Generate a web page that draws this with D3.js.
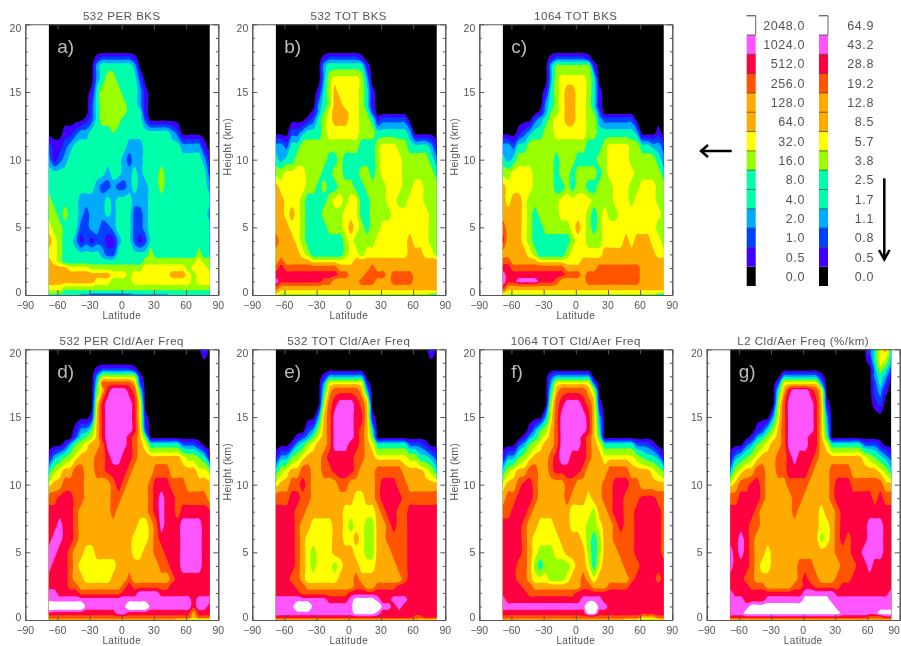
<!DOCTYPE html>
<html>
<head>
<meta charset="utf-8">
<script src="https://cdn.jsdelivr.net/npm/d3@7"></script>
<style>
  body { margin: 0; background: #fff; }
  svg { display: block; filter: blur(0.4px); }
  text { font-family: "Liberation Sans", sans-serif; fill: #555; }
</style>
</head>
<body>
<script>
// grid of the contour data
const lats = [-68,-63,-58,-53,-48,-43,-38,-33,-28,-23,-18,-13,-8,-3,2,7,12,17,22,27,32,37,42,47,52,57,62,67,72,77,82];
const heights = [20,19,18.5,18,17.5,17,16,15,14,13.5,13,12,11,10,9,8,7,6,5,4,3,2.5,2,1.5,1,0.5,0.2,0];

// colour bar
const levelColors = ["#000000","#4000ff","#0040ff","#00aaff","#00ffaa","#00ffaa","#99ff00","#ffff00","#ffaa00","#ffaa00","#ff5500","#ff0040","#ff55ff","#ffffff"];
const bksLabels = ["0.0","0.5","1.0","2.0","4.0","8.0","16.0","32.0","64.0","128.0","256.0","512.0","1024.0","2048.0"];
const freqLabels = ["0.0","0.5","0.8","1.1","1.7","2.5","3.8","5.7","8.5","12.8","19.2","28.8","43.2","64.9"];
// where each colour starts; 4/5 and 8/9 look the same so the next step sits half way
const levelCuts = [0, 0.5, 1.5, 2.5, 3.5, 4.5, 5.01, 6.5, 7.5, 8.5, 9, 10.5, 11.5, 12.5];

const Z = "00000 00000 00000 00000 00000 00000 0";

// each row is one height (top to bottom), each character the colour level (hex) at one latitude
const perBks = [Z,Z,Z,Z,
"00000 00001 22222 21000 00000 00000 0",
"00000 00003 44444 43000 00000 00000 0",
"00000 00003 46644 44200 00000 00000 0",
"00000 00014 66664 44310 00000 00000 0",
"00000 00024 66666 44310 00000 00000 0",
"00000 00024 66666 44410 00000 00000 0",
"00000 00124 66664 44420 00000 00000 0",
"00011 23344 44544 44444 44432 00000 0",
"21123 44444 44444 33344 44444 33331 0",
"31234 44444 44443 23344 44444 44443 1",
"44444 44444 43443 34344 46444 44444 2",
"44444 44443 22322 34334 46444 44444 3",
"64444 43333 34344 43334 44444 44444 4",
"66464 43233 34344 42234 44444 44444 3",
"76644 42233 22344 42234 44444 44444 4",
"87644 31212 21134 42124 44444 44444 4",
"77644 44444 32244 44446 44444 44464 4",
"87644 44444 44444 44466 66666 66676 6",
"88887 77766 66666 66677 77777 76777 6",
"88888 88888 88777 67777 77788 87677 7",
"88888 88887 77666 67777 77777 77677 7",
"77766 66666 66666 66666 66666 66666 6",
"66644 44444 44444 44444 44444 44444 4",
"44444 43322 22222 23333 33344 44444 4"];

const totBks = [Z,Z,Z,Z,
"00000 00001 22222 21000 00000 00000 0",
"00000 00003 44444 44100 00000 00000 0",
"00000 00003 67777 76300 00000 00000 0",
"00000 00014 68777 76410 00000 00000 0",
"00000 00034 68877 76410 00000 00000 0",
"00000 00135 78887 76520 00000 00000 0",
"00000 01246 78887 76641 22222 00000 0",
"00022 34446 77777 76664 44444 30000 0",
"33244 66666 66666 64446 77766 44443 1",
"43446 66666 44644 44446 77776 66664 3",
"66777 76664 46644 46646 77776 66666 4",
"87777 76646 44666 44666 67776 67766 6",
"88777 64444 67767 74466 67766 77766 6",
"88787 64446 66677 74466 66777 77776 6",
"88877 64444 66678 76466 77777 77776 6",
"A8887 64444 44467 66667 77777 87776 6",
"88888 76444 44467 76777 77777 88877 6",
"8A888 88777 77777 88888 88888 88888 8",
"ABAAA AAAAA AA888 888A8 88888 88888 8",
"BBBBB BBBBB BBAA8 88AAA A8AAA A8888 8",
"CBBBB BBBBA A8888 8AAA8 88AAA A8888 8",
"A8888 88888 88888 88888 88888 88888 8",
"87777 77777 77777 77777 77777 77777 7",
"66666 66666 66666 66666 66666 66664 4"];

const irBks = [Z,Z,Z,Z,
"00000 00001 22222 21000 00000 00000 0",
"00000 00003 55555 55100 00000 00000 0",
"00000 00003 67777 76400 00000 00000 0",
"00000 00014 67887 76410 00000 00000 0",
"00000 00034 67887 76410 00000 00000 0",
"00000 00135 67887 76520 00000 00000 0",
"00000 02346 77887 76632 22222 00000 0",
"00012 34466 77777 76644 44444 30001 0",
"33244 66666 66666 64446 77776 64433 2",
"43466 66666 46664 44466 77776 66664 3",
"66777 76666 46646 66646 77777 66666 4",
"87777 76666 44646 64466 67776 67776 6",
"87887 66666 67777 77666 67776 77776 6",
"88887 64666 67777 76467 66777 77777 6",
"A8887 64466 66678 76467 77777 77776 6",
"B8887 64444 44467 76667 77787 88877 6",
"88888 76444 44677 77778 88888 88887 7",
"AA888 88777 77777 88888 88888 88888 8",
"BBAAA AAAAA AA888 888AA AAAAA A8888 8",
"CBBBB BBBBB BBAAA 8AAAA AAAAA A8888 8",
"CBBCC CCBBB A8888 8AAAA AAAAA A8888 8",
"B8888 88888 88888 88888 88888 88888 8",
"87777 77777 77777 77777 77777 77777 7",
"66666 66666 66666 66666 66666 66664 4"];

const perFreq = [
"00000 00000 00000 00000 00000 00002 0",Z,
"00000 00001 22222 21000 00000 00000 0",
"00000 00003 66666 66100 00000 00000 0",
"00000 00004 AAAAA A8200 00000 00000 0",
"00000 00005 8BCCC BA400 00000 00000 0",
"00000 00007 BCCCC CB700 00000 00000 0",
"00000 00018 BCCCC CB710 00000 00000 0",
"00000 13358 BCCCC CB820 00000 00000 0",
"00000 24568 BCCCC BA850 00000 00000 0",
"00013 56788 ACCCC BA874 44444 22210 0",
"13456 7888A ABCCB BA888 88888 76654 1",
"46788 AA88A ABBBB A8888 AAA88 88877 6",
"788AA AA888 88ABA 8888A BBBAA A8888 8",
"AABBB AA888 88AA8 8888A BCBBA AAAAA 8",
"BBBBB A8888 88A88 8888A BCBBA BBBBB B",
"BBCBB A8888 88888 88778 ACBBB CCCCB B",
"BCCBB A8888 88888 87778 ABBBB CCCCB B",
"CCBBA 88778 88888 87788 AABBB CCCCB B",
"CBBBA 87777 77788 88888 8AABB CCCCB B",
"BBBBA 88777 77888 A8888 888AB BBBBB B",
"BBBBA A8888 8888A BAAAA AAABB BBBBB B",
"CCBBB BAAAA AAAAB BBCCC CBBBB BBBBB B",
"CCCCC CCCCC CCCCC CCCCC CCCCC CCBCC C",
"EEEEE EECCC CCCCC EEEEC CCCCC CCBCC B",
"BBBBB BBBBB BBBCC BBBBB BBBBB BB8BB B",
"AAAAA AAAAA AAAAA AAAAA AAAAA AA8AA A",
"88888 88888 88888 88888 88887 77666 6"];

const totFreq = [
"00000 00000 00000 00000 00000 00002 0",Z,Z,
"00000 00001 33333 33000 00000 00000 0",
"00000 00003 77777 77100 00000 00000 0",
"00000 00004 8AAAA A8300 00000 00000 0",
"00000 00006 ABCCC BA800 00000 00000 0",
"00000 00038 ACCCC BB810 00000 00000 0",
"00000 02368 ACCCC BA840 00000 00000 0",
"00001 23578 ACCCC BA850 00000 00000 0",
"00013 46788 ACCCB BA874 44444 22210 0",
"13356 7888A BBBBB AA887 77777 66443 2",
"46788 AA88A ABBBB A888A AAAA8 88876 4",
"788AA BA888 88AA8 8888A BBBAA 88888 8",
"AAABB AA888 88888 7788A BBBBA AAAAA A",
"BBBBA A8888 88877 77778 ABBAA BBBBB B",
"BBBBA 88777 78876 77668 8ABAA BBBBB B",
"BBBBA 87777 78877 87668 8AAAA BBBBB B",
"BBBBA 87677 78888 77668 88AAA BBBBB B",
"BBBBA 87677 76788 87778 888AA BBBBB B",
"BBBAA 87777 77888 A8888 8888A BBBBB B",
"BBBBA A8888 88888 AA88A AAABB BBBBB B",
"BBBBB AAAAA AAAAB BBBBB BBBBB BBBBB B",
"CCCCC CCCCC BBBBC DDDDC BBCCC BBBBB B",
"CCCCE EECCC CCCCC EEEEE CCBCB BBBBB B",
"CCCCC CCCCC CCCCC DDDDC BBBBB BBBBB B",
"BBBBB BBBBB BBBBB BBBBB BBBBB BAABB B",
"88888 88888 88888 88888 88888 88777 6"];

const irFreq = [Z,Z,Z,
"00000 00002 33333 33000 00000 00000 0",
"00000 00003 77777 77200 00000 00000 0",
"00000 00004 8AAAA A8600 00000 00000 0",
"00000 00006 ABCCC BA810 00000 00000 0",
"00000 00037 ACCCC CB830 00000 00000 0",
"00000 13568 ACCCC CB840 00000 00000 0",
"00001 34678 ACCCC BA850 00000 00000 0",
"00023 56788 ACCCC BA874 44444 22210 0",
"13356 7888A BCCBB BA887 77777 65443 1",
"46788 AA88A BBBBB A8888 AAAA8 88876 5",
"788AB BA888 88AA8 8888A ABBBA A8888 8",
"8AABB BA888 88A88 8788A ABBAA ABBBA A",
"AABBB A8888 88877 77688 ABBAA BBBBB A",
"BBBBA 88777 88877 76678 8ABAA BBBBB A",
"BBBBA 87777 78888 76468 8AAAA BBBBB A",
"BBBBA 87666 77888 86468 88AAA BBBBB A",
"BBBAA 86466 66678 87478 888AA ABBBB B",
"BBBAA 87776 66788 A8788 8888A BBBBA B",
"BBBBA A8888 88888 AA888 AAAAB BBBBB B",
"BBBBB AAAAA AAAAB BBBBB BBBBB BBBBB B",
"CBBBB BBBBB BBBBB CCCCB BBBBB BBBBB B",
"CCCCC CCCCC CCCCC CEECC BBBBB BBBBB B",
"BBBBB BBBBB BBBBB BDDBB BBBBB BBBBB B",
"AAAAA AAAAA AAAAA AAAAA AAAAA A888A A",
"88888 88888 88888 88888 88877 76666 7"];

const l2Freq = [
"00000 00000 00000 00000 00000 02478 4",
"00000 00000 00000 00000 00000 01476 3",
"00000 00000 00000 00000 00000 00364 2",
"00000 00000 33333 33100 00000 00343 1",
"00000 00002 77777 77300 00000 00242 0",
"00000 00004 8BCCC BA700 00000 00231 0",
"00000 00006 ACCCC CB810 00000 00120 0",
"00000 00037 ACCCC CB830 00000 00000 0",
"00000 12468 ACCCC CB840 00000 00000 0",
"00001 34678 ACCCC BB850 00000 00000 0",
"00023 56788 ACCCC BB874 44444 22210 0",
"13456 7888A ABCBB BA888 88888 76543 2",
"36788 AA88A ABBBB A888A AAA88 88876 4",
"78AAB BA888 8AAAA 8888A BBBAA AAAA8 8",
"AABBB BA888 88AA8 8888A BBBBB BBABA A",
"BBBBB A8888 88A88 88788 ABBBB BBBBB B",
"BBBBA A8888 88888 88778 ABBBB BCCCB B",
"BBCBA 88888 88888 88678 ABABB BCCCB B",
"CBCBA 88788 88888 88888 AAABB CCCCB B",
"CBBBA 87788 888AA A8888 8AAAB BCBBB B",
"BBBAA 88888 888AB AA888 AAABB BBBBB B",
"BBBBA AA888 88AAB BAAAA ABBBB BBBBB B",
"CBBBB BBBBB BBBBC CCCCC BBBBB BBBBB C",
"CCCBB BBCCC CCCCD DDDDC CCCCC CCCCC C",
"CCCCD DDDDD DDDDD DDDDD CCCCC CCCCC C",
"CCCDD DDDDD DDDDD DDDDD DCCCC CCCDD D",
"BBBBB BBBBB BBBBB BBBBB BBBBB BAAAB B",
"88888 88888 88888 88888 88888 88888 8"];

const panels = [
  { title: "532 PER BKS", tag: "a)", rows: perBks, left: 25.3, top: 24.3, yTitle: false },
  { title: "532 TOT BKS", tag: "b)", rows: totBks, left: 252.3, top: 24.3, yTitle: true },
  { title: "1064 TOT BKS", tag: "c)", rows: irBks, left: 479.3, top: 24.3, yTitle: true },
  { title: "532 PER Cld/Aer Freq", tag: "d)", rows: perFreq, left: 25.3, top: 349.3, yTitle: false },
  { title: "532 TOT Cld/Aer Freq", tag: "e)", rows: totFreq, left: 252.3, top: 349.3, yTitle: true },
  { title: "1064 TOT Cld/Aer Freq", tag: "f)", rows: irFreq, left: 479.3, top: 349.3, yTitle: true },
  { title: "L2 Cld/Aer Freq (%/km)", tag: "g)", rows: l2Freq, left: 706.7, top: 349.3, yTitle: false },
];

//width and height of one plot
const w = 193;
const h = 270.7;
const axisColor = "#555";

const svg = d3.select("body").append("svg").attr("width", 901).attr("height", 646);

const xScale = d3.scaleLinear().domain([-90, 90]).range([0, w]);
const yScale = d3.scaleLinear().domain([0, 20]).range([h, 0]);

// contour grid cell centres sit at i + 0.5, the half cell outside gets clipped
const xGrid = d3.scaleLinear()
  .domain(lats.map((d, i) => i + 0.5))
  .range(lats.map((d) => xScale(d)));
const yGrid = d3.scaleLinear()
  .domain(heights.map((d, i) => i + 0.5))
  .range(heights.map((d) => yScale(d)));

const ringLine = d3.line()
  .x((d) => xGrid(d[0]))
  .y((d) => yGrid(d[1]))
  .curve(d3.curveCatmullRomClosed.alpha(0.5));

const contours = d3.contours()
  .size([lats.length, heights.length])
  .smooth(true)
  .thresholds(levelCuts.slice(1));

const styleAxis = (g) => {
  g.select(".domain").attr("stroke", axisColor);
  g.selectAll("line").attr("stroke", axisColor);
};

panels.forEach((p, pi) => {
  const g = svg.append("g").attr("transform", "translate(" + p.left + "," + p.top + ")");

  const values = p.rows.flatMap((r) => Array.from(r.replace(/ /g, ""), (c) => parseInt(c, 16)));

  const x0 = xScale(lats[0]);
  const x1 = xScale(lats[lats.length - 1]);

  g.append("clipPath")
    .attr("id", "clip" + pi)
    .append("rect")
    .attr("x", x0)
    .attr("y", 0)
    .attr("width", x1 - x0)
    .attr("height", h);

  g.append("rect")
    .attr("x", x0)
    .attr("y", 0)
    .attr("width", x1 - x0)
    .attr("height", h)
    .attr("fill", levelColors[0]);

  g.append("g")
    .attr("clip-path", "url(#clip" + pi + ")")
    .selectAll("path")
    .data(contours(values))
    .join("path")
    .attr("d", (d) =>
      d.coordinates
        .flatMap((poly) => poly.map((ring) => ringLine(ring.slice(0, -1))))
        .join("")
    )
    .attr("fill-rule", "evenodd")
    .attr("fill", (d) => levelColors[levelCuts.indexOf(d.value)]);

  // axes: major ticks and minor ticks both point inwards
  const yMajor = [0, 5, 10, 15, 20];
  const yMinor = d3.range(0, 21).filter((d) => d % 5 !== 0);
  const xTicks = [-90, -60, -30, 0, 30, 60, 90];

  [
    [d3.axisLeft, 0],
    [d3.axisRight, w],
  ].forEach(([axis, x]) => {
    g.append("g")
      .attr("transform", "translate(" + x + ",0)")
      .call(axis(yScale).tickValues(yMinor).tickSize(-2.5).tickSizeOuter(0).tickFormat(""))
      .call(styleAxis);
    g.append("g")
      .attr("transform", "translate(" + x + ",0)")
      .call(axis(yScale).tickValues(yMajor).tickSize(-5).tickSizeOuter(0).tickFormat(""))
      .call(styleAxis);
  });

  g.append("g")
    .attr("transform", "translate(0," + h + ")")
    .call(d3.axisBottom(xScale).tickValues(xTicks).tickSize(-5).tickSizeOuter(0).tickFormat(""))
    .call(styleAxis);
  g.append("g")
    .call(d3.axisTop(xScale).tickValues(xTicks).tickSize(-5).tickSizeOuter(0).tickFormat(""))
    .call(styleAxis);

  // tick labels
  g.selectAll("text.ylab")
    .data(yMajor)
    .join("text")
    .attr("class", "ylab")
    .attr("x", -4)
    .attr("y", (d) => yScale(d) + (d === 20 ? 8 : d === 0 ? 1.5 : 4))
    .attr("text-anchor", "end")
    .attr("font-size", 10.5)
    .text((d) => d);

  // the last panel runs up to the page edge, so its 90 is pulled in
  g.selectAll("text.xlab")
    .data(xTicks)
    .join("text")
    .attr("class", "xlab")
    .attr("x", (d) => (p.left + xScale(d) + 7 > 901 ? 901 - p.left - 7 : xScale(d)))
    .attr("y", h + 14.5)
    .attr("text-anchor", "middle")
    .attr("font-size", 10.5)
    .text((d) => (d < 0 ? "\u2212" + -d : d));

  g.append("text")
    .attr("x", w / 2)
    .attr("y", h + 24)
    .attr("text-anchor", "middle")
    .attr("font-size", 10)
    .attr("letter-spacing", 0.4)
    .text("Latitude");

  g.append("text")
    .attr("x", w / 2)
    .attr("y", -4.5)
    .attr("text-anchor", "middle")
    .attr("font-size", 11.5)
    .attr("letter-spacing", 0.5)
    .text(p.title);

  if (p.yTitle) {
    g.append("text")
      .attr("transform", "translate(-21," + (h / 2 - 13) + ") rotate(-90)")
      .attr("text-anchor", "middle")
      .attr("font-size", 10.5)
      .attr("letter-spacing", 0.3)
      .text("Height (km)");
  }

  g.append("text")
    .attr("x", 32)
    .attr("y", 29)
    .attr("font-size", 19)
    .style("fill", "#bbb")
    .text(p.tag);
});

// colour bars
const barY = d3.scaleBand()
  .domain(d3.range(levelColors.length))
  .range([286, 15.7]);

[
  { x: 746.7, labels: bksLabels, textX: 805 },
  { x: 819, labels: freqLabels, textX: 874 },
].forEach((b) => {
  const bar = svg.append("g");
  bar.selectAll("rect")
    .data(levelColors)
    .join("rect")
    .attr("x", b.x)
    .attr("y", (d, i) => barY(i))
    .attr("width", 9)
    .attr("height", barY.bandwidth())
    .attr("fill", (d) => d);
  bar.selectAll("line")
    .data(d3.range(1, levelColors.length))
    .join("line")
    .attr("x1", b.x)
    .attr("x2", b.x + 9)
    .attr("y1", (d) => barY(d))
    .attr("y2", (d) => barY(d))
    .attr("stroke", "#333")
    .attr("stroke-width", 0.7);
  // open white box on top
  bar.append("path")
    .attr("d", d3.line()([
      [b.x, barY(13)],
      [b.x + 9, barY(13)],
      [b.x + 9, barY(12)],
    ]))
    .attr("fill", "none")
    .attr("stroke", "#666");
  bar.selectAll("text")
    .data(b.labels)
    .join("text")
    .attr("x", b.textX)
    .attr("y", (d, i) => barY(i) + barY.bandwidth() / 2 + 4.5)
    .attr("text-anchor", "end")
    .attr("font-size", 12.5)
    .attr("letter-spacing", 0.6)
    .text((d) => d);
});

// the two arrows
const arrows = [
  [[731.7, 151], [701, 151]],
  [[884.3, 178.3], [884.3, 259.5]],
];
const heads = [
  [[708, 145], [701, 151], [708, 157]],
  [[879, 250], [884.3, 259.5], [889.6, 250]],
];
svg.selectAll("path.arrow")
  .data(arrows.concat(heads))
  .join("path")
  .attr("class", "arrow")
  .attr("d", d3.line())
  .attr("fill", "none")
  .attr("stroke", "#000")
  .attr("stroke-width", 2.5);
</script>
</body>
</html>
